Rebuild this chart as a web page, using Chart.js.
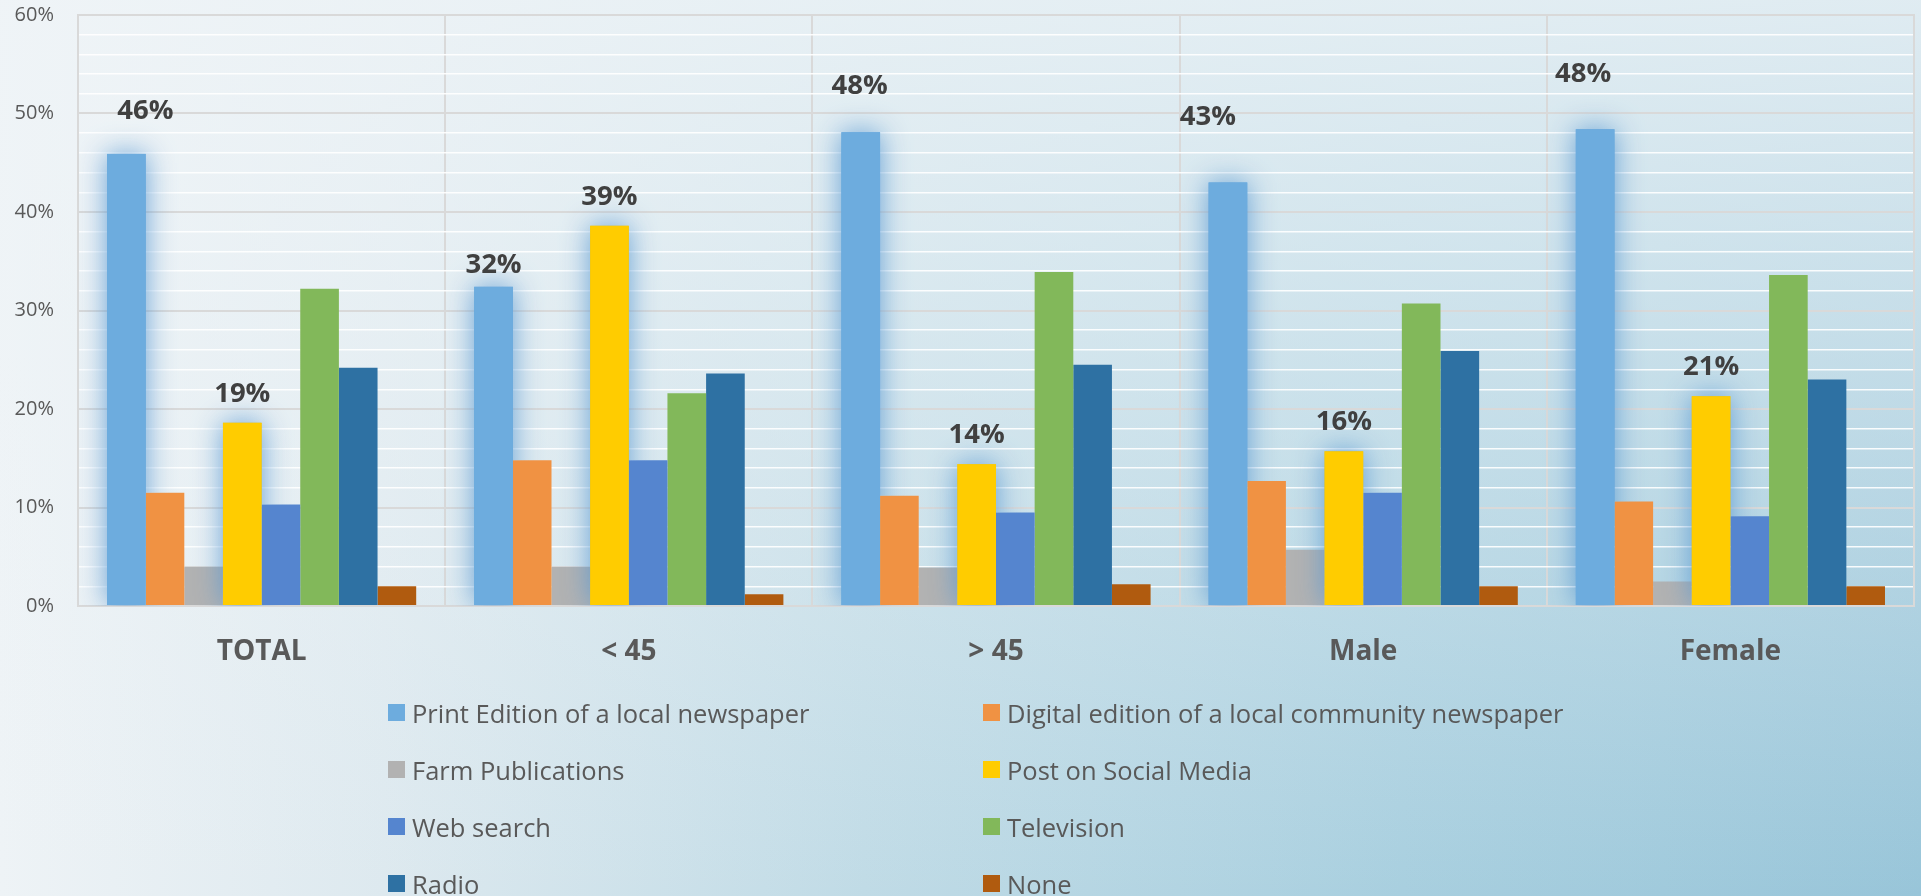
<!DOCTYPE html>
<html>
<head>
<meta charset="utf-8">
<title>Local news sources</title>
<script src="https://cdn.jsdelivr.net/npm/chart.js@4"></script>
<style>
  html, body { margin: 0; padding: 0; }
  body {
    width: 1921px; height: 896px; overflow: hidden; position: relative;
    background:
      linear-gradient(to bottom, rgba(239,244,247,0.82) 0%, rgba(239,244,247,0) 100%),
      linear-gradient(to right, #eef3f6 0%, #dde9ef 20%, #c0dbe6 45%, #a8cfdf 73%, #98c5d9 100%);
  }
  #chart { position: absolute; left: 0; top: 0; }
  #legend {
    position: absolute; left: 388px; top: 700px;
    display: grid; grid-template-columns: 595px 595px; grid-auto-rows: 57px;
    font: 25.5px "Open Sans", sans-serif; color: #595959;
  }
  #legend .item { position: relative; padding-left: 24px; line-height: 27px; white-space: nowrap; }
  #legend .swatch { position: absolute; left: 0; top: 4px; width: 17px; height: 17px; }
</style>
</head>
<body>
<canvas id="chart" width="1921" height="896"></canvas>
<div id="legend"></div>
<script>
// groups along the x axis
var categories = ['TOTAL', '< 45', '> 45', 'Male', 'Female'];

// share of respondents per source, in percent
var printEdition     = [45.9, 32.4, 48.1, 43.0, 48.4];
var digitalEdition   = [11.5, 14.8, 11.2, 12.7, 10.6];
var farmPublications = [4.0, 4.0, 3.9, 5.7, 2.5];
var socialMedia      = [18.6, 38.6, 14.4, 15.7, 21.3];
var webSearch        = [10.3, 14.8, 9.5, 11.5, 9.1];
var television       = [32.2, 21.6, 33.9, 30.7, 33.6];
var radio            = [24.2, 23.6, 24.5, 25.9, 23.0];
var noneOfThese      = [2.0, 1.2, 2.2, 2.0, 2.0];

var seriesNames = ['Print Edition of a local newspaper', 'Digital edition of a local community newspaper',
  'Farm Publications', 'Post on Social Media', 'Web search', 'Television', 'Radio', 'None'];
var seriesValues = [printEdition, digitalEdition, farmPublications, socialMedia,
  webSearch, television, radio, noneOfThese];
var seriesColors = ['#6dacde', '#f09243', '#b2b2b2', '#ffcc00', '#5585cf', '#82b85a', '#2e71a3', '#b05b0f'];

// y axis: 0..60 with a labelled tick every 10
var yMax = 60;
var yLabelEvery = 10;

// series that get a glow and a value label
var highlighted = [0, 3];
// small hand nudges for the value labels [dx, dy up]
var labelNudge = {
  0: [[19, 14], [0, -7], [-1, 17], [-20, 36], [-12, 26]],
  3: [[0, 0], [0, 0], [0, 0], [0, 0], [0, 0]]
};

function barRect(bar) {
  var p = bar.getProps(['x', 'y', 'base', 'width'], true);
  return { x: p.x - p.width / 2, y: p.y, w: p.width, h: p.base - p.y };
}

// frame around the plot area
var framePlugin = {
  id: 'frame',
  beforeDatasetsDraw: function (chart) {
    var a = chart.chartArea, ctx = chart.ctx;
    ctx.save();
    ctx.strokeStyle = '#d9d9d9';
    ctx.lineWidth = 2;
    ctx.strokeRect(a.left, a.top, a.right - a.left, a.bottom - a.top);
    ctx.restore();
  }
};

// soft blue glow around the highlighted bars, kept under the bars that follow them
var glowPlugin = {
  id: 'glow',
  afterDatasetsDraw: function (chart) {
    var ctx = chart.ctx, a = chart.chartArea;
    var n = chart.data.datasets.length;
    highlighted.forEach(function (g) {
      ctx.save();
      ctx.beginPath();
      ctx.rect(a.left, a.top, a.right - a.left, a.bottom - a.top);
      for (var j = g + 1; j < n; j++) {
        chart.getDatasetMeta(j).data.forEach(function (bar) {
          var r = barRect(bar);
          ctx.rect(r.x, r.y, r.w, r.h);
        });
      }
      ctx.clip('evenodd');
      ctx.shadowColor = 'rgba(88,152,210,0.9)';
      ctx.shadowBlur = 28;
      ctx.fillStyle = chart.data.datasets[g].backgroundColor;
      chart.getDatasetMeta(g).data.forEach(function (bar) {
        var r = barRect(bar);
        ctx.fillRect(r.x, r.y, r.w, r.h);
      });
      ctx.restore();
    });
  }
};

// percentage labels over the highlighted bars
var valueLabels = {
  id: 'valueLabels',
  afterDatasetsDraw: function (chart) {
    var ctx = chart.ctx;
    ctx.save();
    ctx.font = '700 27.5px "Open Sans"';
    ctx.fillStyle = '#404040';
    ctx.textAlign = 'center';
    ctx.textBaseline = 'alphabetic';
    highlighted.forEach(function (g) {
      var vals = chart.data.datasets[g].data;
      chart.getDatasetMeta(g).data.forEach(function (bar, i) {
        var nudge = labelNudge[g][i];
        ctx.fillText(Math.round(vals[i]) + '%', bar.x + nudge[0], bar.y - 21 - nudge[1]);
      });
    });
    ctx.restore();
  }
};

var chart = new Chart(document.getElementById('chart'), {
  type: 'bar',
  data: {
    labels: categories,
    datasets: seriesNames.map(function (name, i) {
      return {
        label: name,
        data: seriesValues[i],
        backgroundColor: seriesColors[i],
        borderWidth: 0,
        categoryPercentage: 0.842,
        barPercentage: 1
      };
    })
  },
  options: {
    responsive: false,
    animation: false,
    layout: { padding: { top: 15, right: 7, left: 0, bottom: 0 } },
    plugins: {
      legend: { display: false },
      tooltip: { enabled: false }
    },
    scales: {
      x: {
        afterFit: function (s) { s.height = 290; },
        grid: { offset: true, color: '#d9d9d9', lineWidth: 2, drawTicks: false },
        border: { display: false },
        ticks: {
          color: '#595959',
          padding: 29,
          font: { family: '"Open Sans"', size: 28, weight: '700' }
        }
      },
      y: {
        min: 0,
        max: yMax,
        afterFit: function (s) {
          s.width = 78;
          s.paddingTop = 0;
          s.paddingBottom = 0;
        },
        grid: {
          drawTicks: false,
          color: function (c) { return c.tick && c.tick.value % yLabelEvery === 0 ? '#d9d9d9' : 'rgba(255,255,255,0.9)'; },
          lineWidth: function (c) { return c.tick && c.tick.value % yLabelEvery === 0 ? 2 : 1.5; }
        },
        border: { display: false },
        ticks: {
          stepSize: 2,
          autoSkip: false,
          padding: 24,
          color: '#595959',
          font: { family: '"Open Sans"', size: 20 },
          callback: function (v) { return v % yLabelEvery === 0 ? v + '%' : ''; }
        }
      }
    }
  },
  plugins: [framePlugin, glowPlugin, valueLabels]
});

// two-column legend built from the datasets
var legendEl = document.getElementById('legend');
chart.data.datasets.forEach(function (ds) {
  var item = document.createElement('div');
  item.className = 'item';
  var sw = document.createElement('span');
  sw.className = 'swatch';
  sw.style.background = ds.backgroundColor;
  var tx = document.createElement('span');
  tx.textContent = ds.label;
  item.appendChild(sw);
  item.appendChild(tx);
  legendEl.appendChild(item);
});
</script>
</body>
</html>
